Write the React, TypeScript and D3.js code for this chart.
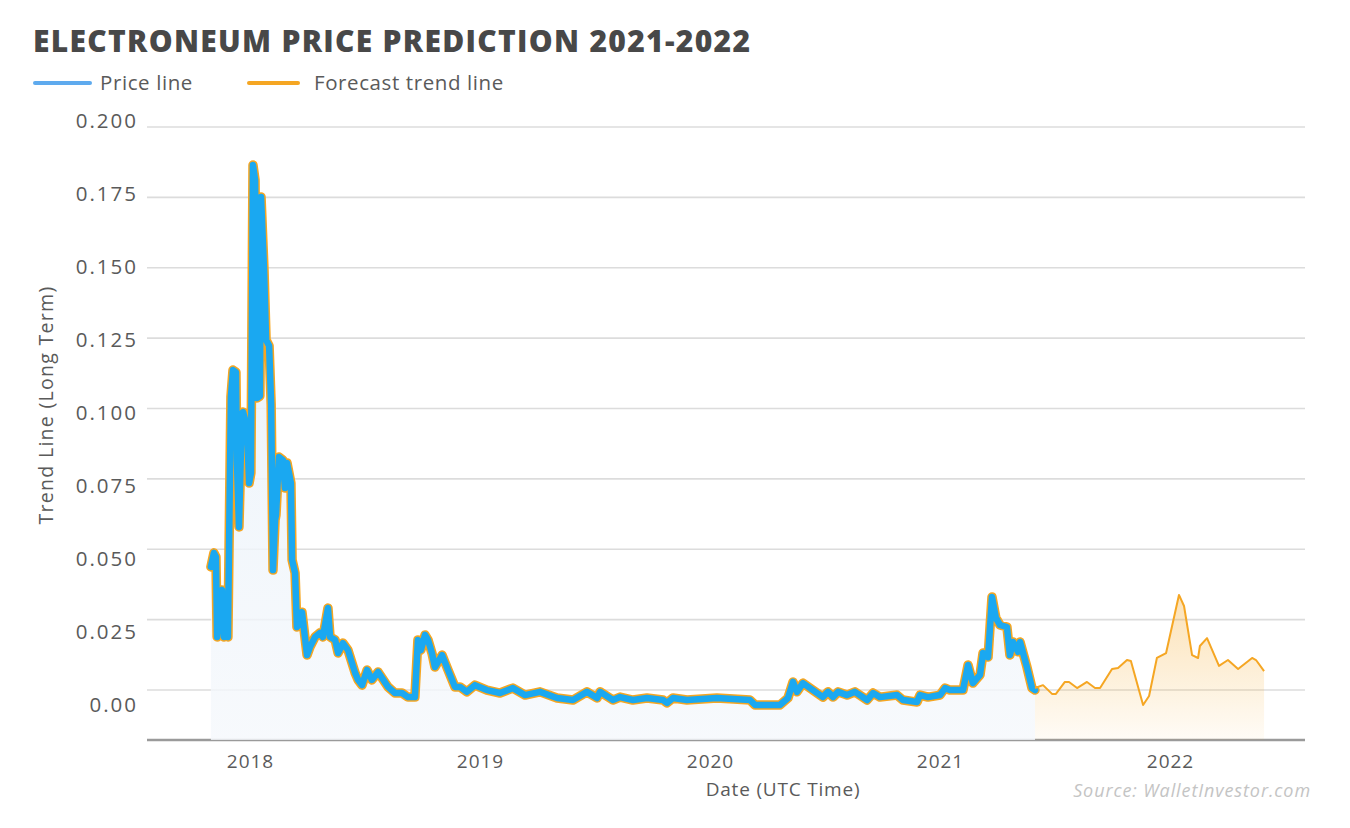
import React from 'react';
import * as d3 from 'd3';

// Price history (decimal year, USD)
const priceYears = [
  2017.830, 2017.843, 2017.852, 2017.857, 2017.870, 2017.878, 2017.887, 2017.896, 2017.904, 2017.917,
  2017.926, 2017.939, 2017.943, 2017.952, 2017.965, 2017.970, 2017.987, 2017.996, 2018.004, 2018.013,
  2018.022, 2018.030, 2018.043, 2018.048, 2018.061, 2018.070, 2018.083, 2018.092, 2018.100, 2018.109,
  2018.113, 2018.126, 2018.143, 2018.152, 2018.161, 2018.178, 2018.183, 2018.196, 2018.204, 2018.217,
  2018.226, 2018.248, 2018.261, 2018.283, 2018.304, 2018.317, 2018.339, 2018.348, 2018.370, 2018.383,
  2018.404, 2018.426, 2018.457, 2018.470, 2018.487, 2018.509, 2018.530, 2018.557, 2018.600, 2018.630,
  2018.661, 2018.687, 2018.717, 2018.730, 2018.743, 2018.761, 2018.774, 2018.791, 2018.804, 2018.835,
  2018.861, 2018.891, 2018.913, 2018.943, 2018.978, 2019.030, 2019.087, 2019.143, 2019.196, 2019.261,
  2019.335, 2019.404, 2019.465, 2019.509, 2019.522, 2019.578, 2019.609, 2019.665, 2019.726, 2019.796,
  2019.813, 2019.839, 2019.900, 2020.030, 2020.174, 2020.196, 2020.304, 2020.339, 2020.361, 2020.378,
  2020.404, 2020.491, 2020.513, 2020.535, 2020.557, 2020.596, 2020.630, 2020.683, 2020.709, 2020.739,
  2020.813, 2020.839, 2020.900, 2020.913, 2020.948, 2021.000, 2021.022, 2021.043, 2021.100, 2021.122,
  2021.143, 2021.174, 2021.187, 2021.209, 2021.226, 2021.243, 2021.261, 2021.291, 2021.304, 2021.317,
  2021.339, 2021.348, 2021.378, 2021.400, 2021.413,
];
const priceValues = [
  0.0473, 0.0521, 0.0507, 0.0233, 0.0384, 0.0394, 0.0233, 0.0315, 0.0233, 0.1055,
  0.1147, 0.1140, 0.0839, 0.0610, 0.1000, 0.1003, 0.0952, 0.0760, 0.0795, 0.1849,
  0.1798, 0.1051, 0.1058, 0.1740, 0.1490, 0.1250, 0.1230, 0.1030, 0.0462, 0.0634,
  0.0650, 0.0849, 0.0839, 0.0743, 0.0829, 0.0760, 0.0497, 0.0452, 0.0267, 0.0281,
  0.0318, 0.0171, 0.0199, 0.0233, 0.0247, 0.0233, 0.0332, 0.0233, 0.0223, 0.0178,
  0.0212, 0.0188, 0.0110, 0.0086, 0.0068, 0.0120, 0.0086, 0.0113, 0.0062, 0.0041,
  0.0041, 0.0027, 0.0027, 0.0223, 0.0188, 0.0240, 0.0223, 0.0178, 0.0130, 0.0171,
  0.0120, 0.0062, 0.0062, 0.0045, 0.0068, 0.0051, 0.0041, 0.0058, 0.0034, 0.0045,
  0.0024, 0.0017, 0.0045, 0.0024, 0.0045, 0.0017, 0.0027, 0.0017, 0.0024, 0.0017,
  0.0007, 0.0024, 0.0017, 0.0024, 0.0017, 0.0000, 0.0000, 0.0024, 0.0079, 0.0045,
  0.0075, 0.0027, 0.0045, 0.0027, 0.0045, 0.0034, 0.0045, 0.0017, 0.0041, 0.0027,
  0.0034, 0.0017, 0.0010, 0.0034, 0.0027, 0.0034, 0.0058, 0.0051, 0.0051, 0.0137,
  0.0075, 0.0103, 0.0178, 0.0164, 0.0370, 0.0298, 0.0274, 0.0267, 0.0171, 0.0216,
  0.0182, 0.0216, 0.0130, 0.0058, 0.0051,
];

// Forecast trend (decimal year, USD)
const forecastYears = [
  2021.413, 2021.448, 2021.487, 2021.504, 2021.543, 2021.561, 2021.596, 2021.639, 2021.674, 2021.696,
  2021.748, 2021.774, 2021.813, 2021.830, 2021.883, 2021.909, 2021.943, 2021.983, 2022.039, 2022.061,
  2022.096, 2022.122, 2022.130, 2022.161, 2022.213, 2022.252, 2022.296, 2022.357, 2022.374, 2022.409,
];
const forecastValues = [
  0.0058, 0.0068, 0.0038, 0.0038, 0.0079, 0.0079, 0.0058, 0.0079, 0.0058, 0.0058,
  0.0123, 0.0127, 0.0154, 0.0151, 0.0000, 0.0031, 0.0161, 0.0178, 0.0377, 0.0339,
  0.0171, 0.0161, 0.0202, 0.0229, 0.0134, 0.0154, 0.0123, 0.0161, 0.0154, 0.0116,
];

const yTicks = [0, 0.025, 0.05, 0.075, 0.1, 0.125, 0.15, 0.175, 0.2];
const yTickLabels = ['0.00', '0.025', '0.050', '0.075', '0.100', '0.125', '0.150', '0.175', '0.200'];
const xTicks = [2018, 2019, 2020, 2021, 2022];

const FONT = "'Open Sans', sans-serif";

export default function App() {
  const W = 1350;
  const H = 828;
  const plotLeft = 147;
  const plotRight = 1305;
  const axisY = 740;

  const x = d3.scaleLinear().domain([2018, 2022]).range([250, 1170]);
  const y = d3.scaleLinear().domain([0, 0.2]).range([705, 121]);
  const gridY = d3.scaleLinear().domain([0, 0.2]).range([690, 127]);
  const labelY = d3.scaleLinear().domain([0, 0.2]).range([705, 121]);

  const price = priceYears.map((t, i) => ({ t, v: priceValues[i] }));
  const forecast = forecastYears.map((t, i) => ({ t, v: forecastValues[i] }));

  const line = d3.line<{ t: number; v: number }>().x(d => x(d.t)).y(d => y(d.v));
  const area = d3
    .area<{ t: number; v: number }>()
    .x(d => x(d.t))
    .y0(axisY)
    .y1(d => y(d.v));

  return (
    <svg
      width={W}
      height={H}
      style={{ position: 'absolute', left: 0, top: 0, background: '#fff' }}
      fontFamily={FONT}
    >
      <defs>
        <linearGradient id="blueFill" x1="0" y1="0" x2="0" y2="1">
          <stop offset="0%" stopColor="#e6f0f9" stopOpacity={0.85} />
          <stop offset="100%" stopColor="#f5f8fc" stopOpacity={0.8} />
        </linearGradient>
        <linearGradient id="orangeFill" gradientUnits="userSpaceOnUse" x1="0" y1="590" x2="0" y2="740">
          <stop offset="0%" stopColor="#f5a623" stopOpacity={0.34} />
          <stop offset="100%" stopColor="#f5a623" stopOpacity={0.04} />
        </linearGradient>
      </defs>

      {/* Title */}
      <text x={33} y={52} fontSize={30} fontWeight={800} fill="#484848" letterSpacing={1.3}>
        ELECTRONEUM PRICE PREDICTION 2021-2022
      </text>

      {/* Legend */}
      <line x1={35} x2={90} y1={83} y2={83} stroke="#5eaaee" strokeWidth={4} strokeLinecap="round" />
      <text x={100} y={90} fontSize={20.5} fill="#5a5a5a" letterSpacing={0.6}>Price line</text>
      <line x1={249} x2={298} y1={83} y2={83} stroke="#f5a623" strokeWidth={4} strokeLinecap="round" />
      <text x={314} y={90} fontSize={20.5} fill="#5a5a5a" letterSpacing={0.6}>Forecast trend line</text>

      {/* Gridlines */}
      {yTicks.map(t => (
        <line
          key={'g' + t}
          x1={plotLeft}
          x2={plotRight}
          y1={gridY(t)}
          y2={gridY(t)}
          stroke="#dcdcdc"
          strokeWidth={1.6}
        />
      ))}

      {/* Axis line */}
      <line x1={plotLeft} x2={plotRight} y1={axisY} y2={axisY} stroke="#9a9a9a" strokeWidth={2.5} />

      {/* Y labels */}
      {yTicks.map((t, i) => (
        <text
          key={'yl' + t}
          x={138}
          y={labelY(t)}
          dy="0.35em"
          textAnchor="end"
          fontSize={20.5}
          fill="#5a5a5a"
          letterSpacing={2}
        >
          {yTickLabels[i]}
        </text>
      ))}

      {/* Y title */}
      <text
        transform="translate(53,405) rotate(-90)"
        textAnchor="middle"
        fontSize={19.5}
        fill="#5a5a5a"
        letterSpacing={1.3}
      >
        Trend Line (Long Term)
      </text>

      {/* Areas */}
      <path d={area(price) || ''} fill="url(#blueFill)" />
      <path d={area(forecast) || ''} fill="url(#orangeFill)" />

      {/* Price line: orange outline under blue */}
      <path
        d={line(price) || ''}
        fill="none"
        stroke="#f5a623"
        strokeWidth={9.5}
        strokeLinejoin="round"
        strokeLinecap="round"
      />
      <path
        d={line(price) || ''}
        fill="none"
        stroke="#1aa8f1"
        strokeWidth={6.5}
        strokeLinejoin="round"
        strokeLinecap="round"
      />

      {/* Forecast line */}
      <path
        d={line(forecast) || ''}
        fill="none"
        stroke="#f5a623"
        strokeWidth={2}
        strokeLinejoin="round"
      />

      {/* X labels */}
      {xTicks.map(t => (
        <text key={'xl' + t} x={x(t) + 0.5} y={768} textAnchor="middle" fontSize={19} fill="#5a5a5a" letterSpacing={1}>
          {t}
        </text>
      ))}
      <text x={783} y={796} textAnchor="middle" fontSize={19} fill="#5a5a5a" letterSpacing={0.8}>
        Date (UTC Time)
      </text>
      <text x={1311} y={797} textAnchor="end" fontSize={18} fontStyle="italic" fill="#c4c4c4" letterSpacing={0.9}>
        Source: WalletInvestor.com
      </text>
    </svg>
  );
}
